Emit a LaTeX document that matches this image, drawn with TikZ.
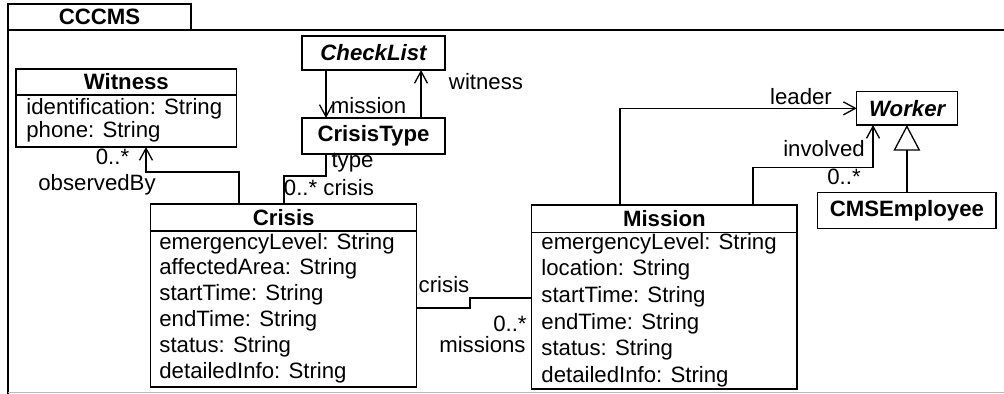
\documentclass[tikz,border=0pt]{standalone}
\usepackage{fontspec}
\setmainfont{Liberation Sans}
\usetikzlibrary{arrows.meta}
\newcommand\umlfs{\fontsize{11.1}{13}\selectfont}
\begin{document}
\begin{tikzpicture}[x=0.5pt,y=-0.5pt,
  box/.style={draw, line width=0.65pt, inner sep=0pt, outer sep=0pt, font=\umlfs\bfseries},
  attr/.style={anchor=west, inner sep=0pt, font=\umlfs},
  lbl/.style={inner sep=0pt, font=\umlfs},
  conn/.style={line width=0.65pt},
  assoc/.style={conn, -{Straight Barb[length=6pt,width=6.5pt,line width=0.65pt]}},
  gen/.style={conn, -{Triangle[open,length=12.85pt,width=13.35pt,line width=0.65pt]}}]
\useasboundingbox (0,0) rectangle (1004,394);
% package frame
\draw[conn] (8,394) -- (8,30) -- (1004,30);
\draw[gray!55, line width=0.65pt] (8,392.5) -- (1004,392.5);
\node[box, minimum width=91.5pt, minimum height=13pt] (tab) at (99.5,17) {CCCMS};
% Witness
\node[box, minimum width=110.35pt, minimum height=13pt] (witnessH) at (126.35,82) {Witness};
\node[box, minimum width=110.35pt, minimum height=26pt] (witnessA) at (126.35,121) {};
\draw[line width=1.1pt] (witnessA.south west) -- (witnessA.south east);
\node[attr] (w1) at (26,108.3) {identification: String};
\node[attr] (w2) at (26,131.7) {phone: String};
% CheckList / CrisisType
\node[box, minimum width=71.5pt, minimum height=17pt] (checklist) at (373.5,53) {\itshape CheckList};
\node[box, minimum width=71.5pt, minimum height=18pt] (crisistype) at (373.5,136) {CrisisType};
% Crisis
\node[box, minimum width=133pt, minimum height=13.5pt] (crisisH) at (283.7,217.5) {Crisis};
\node[box, minimum width=133pt, minimum height=78pt] (crisisA) at (283.7,309) {};
\node[attr] (c1) at (159,243.3) {emergencyLevel: String};
\node[attr] (c2) at (159,269.1) {affectedArea: String};
\node[attr] (c3) at (159,294.9) {startTime: String};
\node[attr] (c4) at (159,320.7) {endTime: String};
\node[attr] (c5) at (159,346.5) {status: String};
\node[attr] (c6) at (159,372.3) {detailedInfo: String};
% Mission
\node[box, minimum width=132.65pt, minimum height=13.85pt] (missionH) at (664.35,218.85) {Mission};
\node[box, minimum width=132.65pt, minimum height=78.15pt] (missionA) at (664.35,310.85) {};
\node[attr] (m1) at (541,243.3) {emergencyLevel: String};
\node[attr] (m2) at (541,270) {location: String};
\node[attr] (m3) at (541,296.7) {startTime: String};
\node[attr] (m4) at (541,323.3) {endTime: String};
\node[attr] (m5) at (541,350) {status: String};
\node[attr] (m6) at (541,376.7) {detailedInfo: String};
% Worker / CMSEmployee
\node[box, minimum width=50.5pt, minimum height=16.65pt] (worker) at (907.2,108.35) {\itshape Worker};
\node[box, minimum width=89.15pt, minimum height=18pt] (cms) at (906.85,210.3) {CMSEmployee};
% connectors
\draw[assoc] (326,0 |- checklist.south) -- (326,0 |- crisistype.north);
\draw[assoc] (421,0 |- crisistype.north) -- (421,0 |- checklist.south);
\draw[conn] (326,0 |- crisistype.south) -- (326,176) -- (284,176) -- (284,0 |- crisisH.north);
\draw[assoc] (239,0 |- crisisH.north) -- (239,172) -- (146,172) -- (146,0 |- witnessA.south);
\draw[conn] (crisisA.east |- 0,308) -- (470,308) -- (470,298) -- (missionA.west |- 0,298);
\draw[assoc] (620,0 |- missionH.north) |- (worker.west);
\draw[assoc] (753,0 |- missionH.north) -- (753,167.3) -- (873,167.3) -- (873,0 |- worker.south);
\draw[gen] (cms.north) -- (cms.north |- worker.south);
% labels
\node[lbl] (lmission) at (368.5,106) {mission};
\node[lbl] (lwitness) at (486,82) {witness};
\node[lbl] (ltype) at (352.5,163) {type};
\node[lbl] (lcrisis1) at (329,188) {0..* crisis};
\node[lbl] (lw0) at (112.5,157) {0..*};
\node[lbl] (lobs) at (97,185) {observedBy};
\node[lbl] (lcrisis2) at (444,285) {crisis};
\node[lbl, anchor=east] (lm0) at (527,324) {0..*};
\node[lbl, anchor=east] (lmissions) at (526,345) {missions};
\node[lbl] (lleader) at (801,97) {leader};
\node[lbl] (linvolved) at (824,149) {involved};
\node[lbl] (li0) at (844,177) {0..*};
\end{tikzpicture}
\end{document}
